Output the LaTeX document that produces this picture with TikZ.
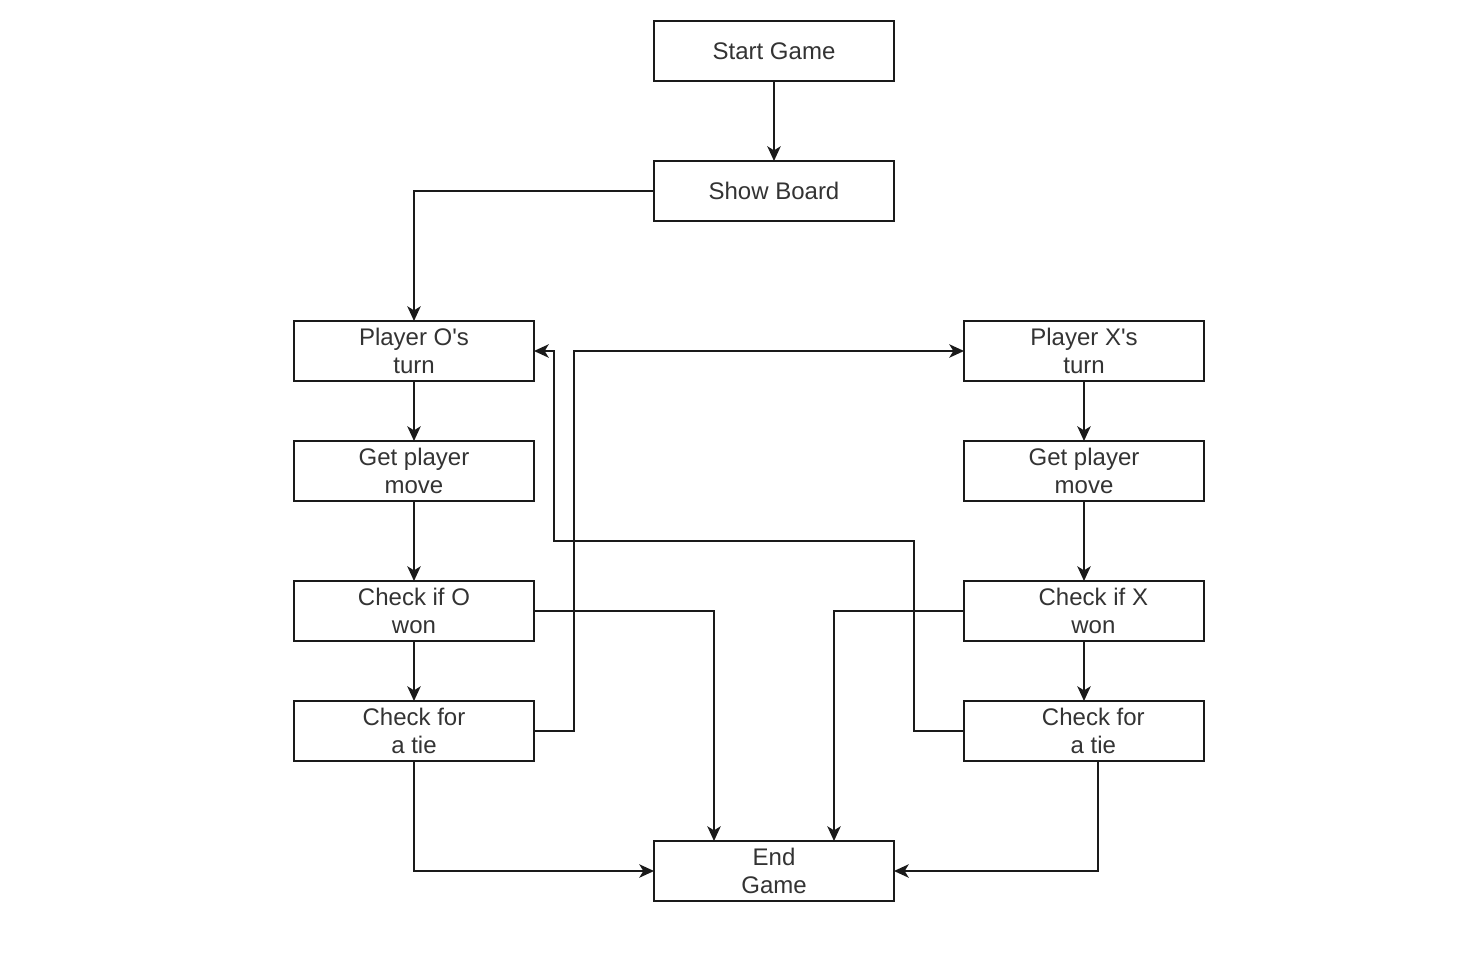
\documentclass[tikz,border=0pt]{standalone}
\usepackage{fontspec}
\setmainfont{Liberation Sans}
\usetikzlibrary{arrows.meta,calc}
\definecolor{txt}{HTML}{333333}
\definecolor{ln}{HTML}{1A1A1A}
\begin{document}
\begin{tikzpicture}[x=0.75pt,y=-0.75pt,
  box/.style={draw=ln,line width=1.5pt,fill=white,minimum width=180pt,minimum height=45pt,
    inner sep=0pt,outer sep=0pt,align=center,text=txt,font=\fontsize{18pt}{21pt}\selectfont},
  arr/.style={draw=ln,line width=1.5pt,-{Stealth[length=11pt,width=10pt,inset=3pt]}}]
\useasboundingbox[fill=white] (0,0) rectangle (1462,974);
\node[box] (start) at (774,51) {Start Game};
\node[box] (show) at (774,191) {Show Board};
\node[box] (po) at (414,351) {Player O\textquotesingle s\\turn};
\node[box] (gpo) at (414,471) {Get player\\move};
\node[box] (cwo) at (414,611) {Check if O\\won};
\node[box] (cto) at (414,731) {Check for\\a tie};
\node[box] (px) at (1084,351) {Player X\textquotesingle s\\turn};
\node[box] (gpx) at (1084,471) {Get player\\move};
\node[box] (cwx) at (1084,611) {\hspace*{14pt}Check if X\\\hspace*{14pt}won};
\node[box] (ctx) at (1084,731) {\hspace*{14pt}Check for\\\hspace*{14pt}a tie};
\node[box] (end) at (774,871) {End\\Game};
\draw[arr] (start) -- (show);
\draw[arr] (show.west) -| (po.north);
\draw[arr] (po) -- (gpo);
\draw[arr] (gpo) -- (cwo);
\draw[arr] (cwo) -- (cto);
\draw[arr] (px) -- (gpx);
\draw[arr] (gpx) -- (cwx);
\draw[arr] (cwx) -- (ctx);
\draw[arr] (cwo.east) -| ([xshift=-45pt]end.north);
\draw[arr] (cwx.west) -| ([xshift=45pt]end.north);
\draw[arr] (cto.south) |- (end.west);
\draw[arr] ([xshift=10.5pt]ctx.south) |- (end.east);
\draw[arr] (cto.east) -- ++(40,0) |- (px.west);
\draw[arr] (ctx.west) -- ++(-50,0) -- ++(0,-190) -- ++(-360,0) |- (po.east);
\end{tikzpicture}
\end{document}
